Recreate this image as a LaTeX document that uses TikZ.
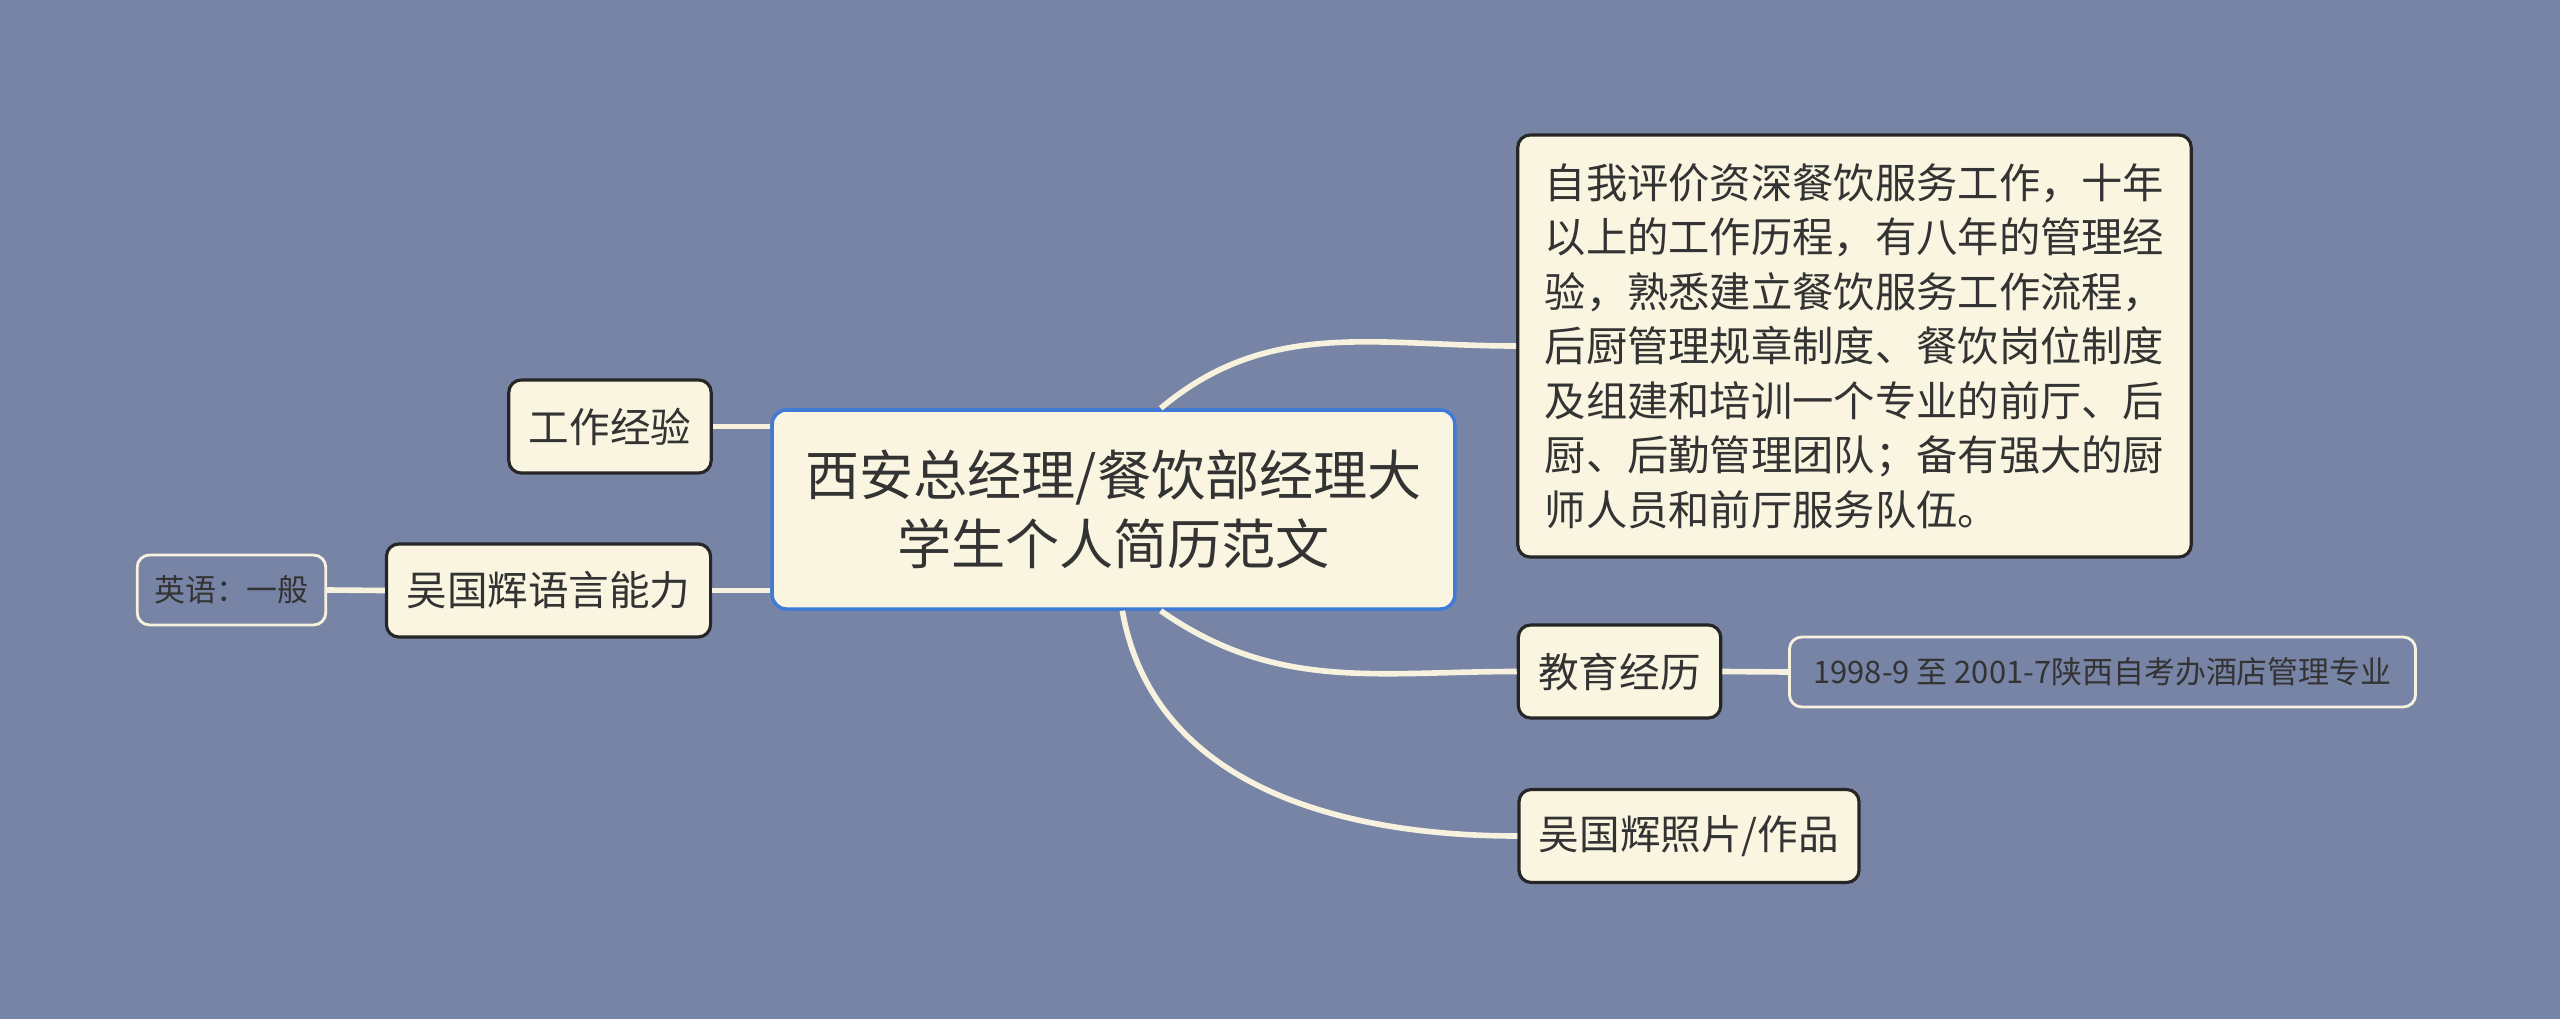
\documentclass[tikz,border=0pt]{standalone}
\usepackage{fontspec}
\setmainfont{Noto Sans CJK SC}
\usepackage{xcolor}
\usepackage{tikz}
\usetikzlibrary{positioning}

\definecolor{bgblue}{HTML}{7784A5}
\definecolor{cream}{HTML}{FAF5E1}
\definecolor{inkgray}{HTML}{333333}
\definecolor{rootblue}{HTML}{3F7BD6}
\definecolor{linkcream}{HTML}{F7F2DE}

\begin{document}
\begin{tikzpicture}[
    root/.style={draw=rootblue, line width=1pt, fill=cream, rounded corners=4pt, text=inkgray,
        align=center, inner xsep=0.33cm, minimum height=1.99cm, font={\fontsize{15.4}{19.5}\selectfont}},
    topic/.style={draw=black!85, line width=0.9pt, fill=cream, rounded corners=3.5pt, text=inkgray,
        inner xsep=0.2cm, minimum height=0.93cm, font={\fontsize{11.55}{15.5}\selectfont}},
    leaf/.style={draw=linkcream, line width=0.8pt, fill=bgblue, rounded corners=3.5pt, text=inkgray,
        inner xsep=0.17cm, minimum height=0.7cm, font={\fontsize{8.8}{11}\selectfont}},
    link/.style={draw=linkcream, line width=1.6pt}
]
    % canvas
    \fill[bgblue] (0,0) rectangle (25.6,-10.19);
    \useasboundingbox (0,0) rectangle (25.6,-10.19);

    % central topic
    \node[root] (main) at (11.135,-5.095) {西安总经理/餐饮部经理大\\学生个人简历范文};

    % right branches
    \node[topic, align=left, inner xsep=0.27cm, minimum height=4.22cm,
        font={\fontsize{11.75}{15.5}\selectfont}] (detail) at (18.545,-3.46)
        {自我评价资深餐饮服务工作，十年\\以上的工作历程，有八年的管理经\\验，熟悉建立餐饮服务工作流程，\\后厨管理规章制度、餐饮岗位制度\\及组建和培训一个专业的前厅、后\\厨、后勤管理团队；备有强大的厨\\师人员和前厅服务队伍。};
    \node[topic] (edu) at (16.195,-6.715) {教育经历};
    \node[leaf, inner xsep=0.24cm] (edudate) at (21.025,-6.72) {1998-9 至 2001-7陕西自考办酒店管理专业};
    \node[topic] (photo) at (16.89,-8.36) {吴国辉照片/作品};

    % left branches
    \node[topic] (work) at (6.10,-4.265) {工作经验};
    \node[topic] (lang) at (5.485,-5.905) {吴国辉语言能力};
    \node[leaf] (eng) at (2.315,-5.90) {英语：一般};

    % connectors
    \draw[link] (main.65) to[out=40,in=180] (detail.west);
    \draw[link] (main.-65) to[out=-35,in=180] (edu.west);
    \draw[link] (main.-85) to[out=-80,in=180] (photo.west);
    \draw[link] (edu.east) -- (edudate.west);
    \draw[link] (work.east) -- (work.east -| main.west);
    \draw[link] (lang.east) -- (lang.east -| main.west);
    \draw[link] (eng.east) -- (lang.west);

\end{tikzpicture}
\end{document}
